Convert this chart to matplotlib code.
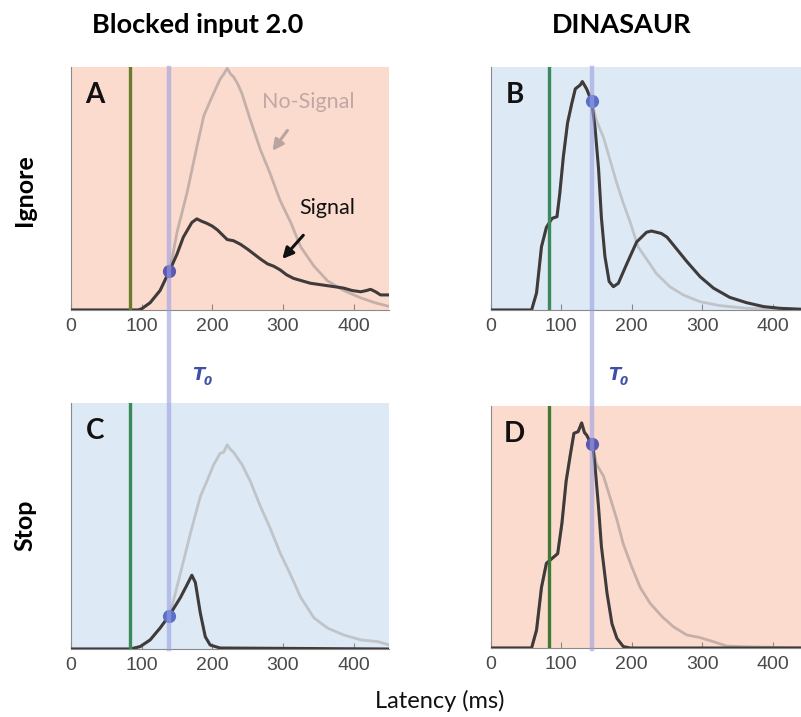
import matplotlib
matplotlib.use("Agg")
import matplotlib.pyplot as plt
from matplotlib.lines import Line2D
from matplotlib.transforms import blended_transform_factory
import numpy as np

# ---------------- data (latency in ms, normalized density) ----------------
# Panel A: Blocked input 2.0, Ignore
a_sig_x = [0, 95, 100, 112, 126, 140, 150, 159, 171, 178, 185, 192, 200, 207, 214, 221, 230, 240,
           250, 259, 268, 278, 287, 296, 305, 315, 327, 339, 351, 363, 375, 386, 398, 410, 418, 424, 431, 438, 451]
a_sig_y = [0, 0, 0.005, 0.03, 0.08, 0.165, 0.23, 0.30, 0.36, 0.375, 0.365, 0.357, 0.345, 0.33, 0.31, 0.29,
           0.285, 0.27, 0.25, 0.23, 0.21, 0.19, 0.18, 0.165, 0.145, 0.13, 0.12, 0.11, 0.105, 0.10, 0.095,
           0.09, 0.08, 0.075, 0.08, 0.085, 0.075, 0.062, 0.062]
a_nos_x = [0, 95, 100, 112, 126, 140, 150, 164, 178, 188, 200, 211, 216, 221, 226, 230, 236, 242, 254,
           268, 282, 296, 311, 325, 344, 363, 386, 410, 430, 451]
a_nos_y = [0, 0, 0.005, 0.03, 0.08, 0.165, 0.32, 0.48, 0.67, 0.80, 0.88, 0.95, 0.97, 0.995, 0.97, 0.96,
           0.93, 0.89, 0.78, 0.66, 0.56, 0.45, 0.36, 0.26, 0.18, 0.12, 0.08, 0.05, 0.03, 0.014]

# Panel B: DINASAUR, Ignore
b_sig_x = [0, 58, 65, 72, 79, 87, 94, 98, 103, 109, 115, 120, 127, 130, 136, 143, 148, 153, 157, 162,
           168, 174, 181, 193, 207, 214, 221, 228, 235, 242, 250, 264, 278, 297, 316, 339, 363, 387, 410, 450]
b_sig_y = [0, 0, 0.07, 0.26, 0.34, 0.377, 0.384, 0.48, 0.63, 0.77, 0.85, 0.91, 0.926, 0.94, 0.91, 0.86,
           0.75, 0.58, 0.38, 0.22, 0.117, 0.096, 0.11, 0.19, 0.28, 0.30, 0.32, 0.325, 0.32, 0.315, 0.30,
           0.25, 0.20, 0.137, 0.09, 0.052, 0.03, 0.014, 0.007, 0.002]
b_nos_x = [0, 58, 65, 72, 79, 87, 94, 98, 103, 109, 115, 120, 127, 130, 136, 143, 150, 160, 169, 179,
           188, 198, 209, 221, 235, 254, 273, 297, 325, 363, 450]
b_nos_y = [0, 0, 0.07, 0.26, 0.34, 0.377, 0.384, 0.48, 0.63, 0.77, 0.85, 0.91, 0.926, 0.94, 0.91, 0.86,
           0.78, 0.71, 0.62, 0.52, 0.44, 0.36, 0.26, 0.21, 0.15, 0.096, 0.062, 0.034, 0.018, 0.007, 0.0]

# Panel C: Blocked input 2.0, Stop
c_sig_x = [0, 84, 98, 112, 126, 140, 155, 164, 171, 176, 183, 190, 197, 211, 451]
c_sig_y = [0, 0, 0.01, 0.037, 0.085, 0.14, 0.21, 0.26, 0.30, 0.27, 0.146, 0.05, 0.016, 0.004, 0.0]
c_nos_x = [0, 84, 98, 112, 126, 140, 155, 169, 183, 192, 202, 211, 216, 221, 226, 230, 242, 254, 268,
           282, 296, 311, 325, 344, 363, 386, 410, 434, 451]
c_nos_y = [0, 0, 0.01, 0.037, 0.085, 0.14, 0.31, 0.47, 0.62, 0.68, 0.75, 0.795, 0.80, 0.83, 0.81, 0.80,
           0.75, 0.68, 0.58, 0.49, 0.39, 0.30, 0.21, 0.126, 0.085, 0.057, 0.037, 0.03, 0.016]

# Panel D: DINASAUR, Stop
d_sig_x = [0, 58, 65, 72, 79, 87, 95, 101, 107, 113, 118, 124, 129, 133, 136, 145, 148, 153, 157, 165,
           172, 179, 188, 198, 450]
d_sig_y = [0, 0, 0.074, 0.25, 0.35, 0.37, 0.39, 0.515, 0.69, 0.80, 0.887, 0.894, 0.93, 0.89, 0.88, 0.83,
           0.75, 0.58, 0.42, 0.226, 0.10, 0.04, 0.006, 0.0, 0.0]
d_nos_x = [0, 58, 65, 72, 79, 87, 95, 101, 107, 113, 118, 124, 129, 133, 136, 145, 150, 160, 169, 179,
           188, 200, 212, 226, 243, 259, 278, 297, 316, 335, 363, 450]
d_nos_y = [0, 0, 0.074, 0.25, 0.35, 0.37, 0.39, 0.515, 0.69, 0.80, 0.887, 0.894, 0.93, 0.89, 0.88, 0.83,
           0.76, 0.71, 0.625, 0.53, 0.43, 0.336, 0.25, 0.185, 0.13, 0.088, 0.054, 0.043, 0.026, 0.008,
           0.005, 0.0]

onset_ms = 83          # green vertical line
t0_left = 139          # T0 for Blocked input 2.0
t0_right = 143         # T0 for DINASAUR

col_titles = ["Blocked input 2.0", "DINASAUR"]
row_titles = ["Ignore", "Stop"]
panel_letters = ["A", "B", "C", "D"]
xticks = [0, 100, 200, 300, 400]

# ---------------- styling ----------------
PINK = "#fcdbcf"
BLUE = "#dde9f5"
SIG = "#3f3b3b"
W, H = 801, 717

fig = plt.figure(figsize=(W / 100, H / 100), dpi=100)


def rect(left, top, right, bottom):
    return [left / W, 1 - bottom / H, (right - left) / W, (bottom - top) / H]


axA = fig.add_axes(rect(71, 67, 389, 310))
axB = fig.add_axes(rect(490.7, 67, 808, 310))
axC = fig.add_axes(rect(71, 403, 389, 649))
axD = fig.add_axes(rect(490.7, 406, 808, 648))

panels = [
    (axA, a_sig_x, a_sig_y, a_nos_x, a_nos_y, PINK, "#6b7b2e", t0_left, "#5a58b0"),
    (axB, b_sig_x, b_sig_y, b_nos_x, b_nos_y, BLUE, "#3a8a5c", t0_right, "#5a70c8"),
    (axC, c_sig_x, c_sig_y, c_nos_x, c_nos_y, BLUE, "#3a8a5c", t0_left, "#5a70c8"),
    (axD, d_sig_x, d_sig_y, d_nos_x, d_nos_y, PINK, "#3f7a35", t0_right, "#5a58b0"),
]
nos_cols = ["#c4b0aa", "#c0c4c8", "#c0c4c8", "#c4b0aa"]

for i, (ax, sx, sy, nx, ny, bg, gcol, t0, dcol) in enumerate(panels):
    ax.set_facecolor(bg)
    ax.plot(nx, ny, color=nos_cols[i], lw=2.0, zorder=2, solid_joinstyle="round")
    ax.plot(sx, sy, color=SIG, lw=2.2, zorder=3, solid_joinstyle="round")
    ax.axvline(onset_ms, color=gcol, lw=2.4, zorder=4)
    yd = np.interp(t0, sx, sy)
    ax.plot([t0], [yd], "o", ms=8.5, color=dcol, zorder=12)
    ax.set_xlim(0, 450)
    ax.set_ylim(0, 1)
    ax.set_yticks([])
    ax.set_xticks(xticks)
    ax.set_xticklabels([str(t) for t in xticks], fontsize=14, color="#4a4a4a",
                       fontfamily="Liberation Sans")
    ax.tick_params(axis="x", direction="in", length=4, width=0.8, color="#888888", pad=6)
    for s in ["top", "right"]:
        ax.spines[s].set_visible(False)
    for s in ["left", "bottom"]:
        ax.spines[s].set_color("#8a8a8a")
        ax.spines[s].set_linewidth(0.8)
    ax.text(0.075, 0.885, panel_letters[i], transform=ax.transAxes, fontsize=20,
            fontweight="bold", fontfamily="Lato", ha="center", va="center", color="#111111")

# T0 lines spanning both rows
for ax, t0 in [(axA, t0_left), (axB, t0_right)]:
    tr = blended_transform_factory(ax.transData, fig.transFigure)
    fig.add_artist(Line2D([t0, t0], [1 - 68 / H, 1 - 649 / H], transform=tr,
                          color="#9a9ee0", lw=3.2, alpha=0.6, zorder=10))

# T0 labels
for xpx in [192, 608]:
    fig.text(xpx / W, 1 - 375 / H, "T", fontsize=13, fontweight="bold", fontstyle="italic",
             color="#3f4fa8", ha="left", va="center", fontfamily="DejaVu Sans")
    fig.text((xpx + 12) / W, 1 - 382 / H, "0", fontsize=8.5, fontweight="bold", fontstyle="italic",
             color="#3f4fa8", ha="left", va="center", fontfamily="DejaVu Sans")

# annotations panel A
axA.annotate("No-Signal", xy=(285, 0.655), xytext=(336, 0.856), color="#c0a8a4", fontsize=15.5,
             fontfamily="Lato", ha="center", va="center",
             arrowprops=dict(arrowstyle="-|>", color="#b8a4a0", lw=2.2, mutation_scale=16,
                             shrinkA=14, shrinkB=0))
axA.annotate("Signal", xy=(299, 0.21), xytext=(363, 0.42), color="#111111", fontsize=15.5,
             fontfamily="Lato", ha="center", va="center",
             arrowprops=dict(arrowstyle="-|>", color="#111111", lw=2.2, mutation_scale=16,
                             shrinkA=14, shrinkB=0))

# column / row titles
fig.text(198 / W, 1 - 25 / H, col_titles[0], fontsize=19.5, fontweight="bold", fontfamily="Lato",
         ha="center", va="center")
fig.text(622 / W, 1 - 25 / H, col_titles[1], fontsize=19.5, fontweight="bold", fontfamily="Lato",
         ha="center", va="center")
fig.text(25 / W, 1 - 190 / H, row_titles[0], fontsize=18, fontweight="bold", fontfamily="Lato",
         ha="center", va="center", rotation=90)
fig.text(25 / W, 1 - 525 / H, row_titles[1], fontsize=18, fontweight="bold", fontfamily="Lato",
         ha="center", va="center", rotation=90)
fig.text(440 / W, 1 - 701 / H, "Latency (ms)", fontsize=17, fontfamily="Lato",
         ha="center", va="center", color="#111111")

fig.savefig("out.png", dpi=100)
